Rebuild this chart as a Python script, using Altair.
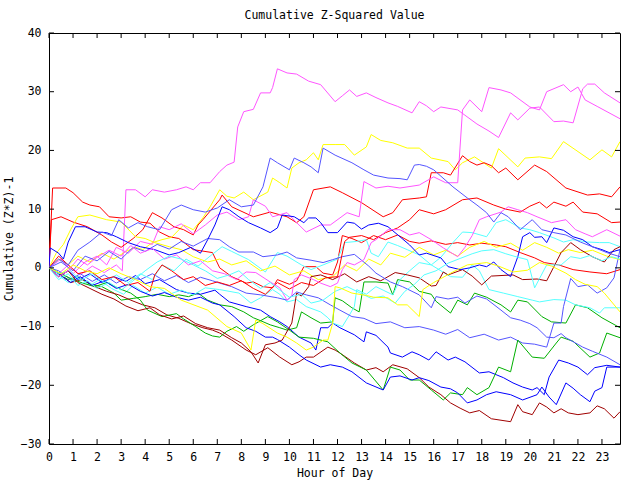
import altair as alt
import pandas as pd

TITLE = "Cumulative Z-Squared Value"
X_TITLE = "Hour of Day"
Y_TITLE = "Cumulative (Z*Z)-1"
x_ticks = list(range(0, 24))
y_ticks = [-30, -20, -10, 0, 10, 20, 30, 40]
X_MAX = 23.75

red_1 = [(0,0),(0.15,13.6),(0.7,13.6),(1,12.8),(1.4,11.2),(1.7,10.7),(2.1,10.4),(2.5,8.7),(3,8.5),(3.4,8.7),(3.8,7.8),(4.2,7.6),(4.6,6.1),(5,5.3),(5.4,5.0),(6,3.1),(6.8,2.6),(7.1,0),(7.6,-1.5),(8.2,-2.6),(8.5,-2.4),(8.9,-3.2),(9.3,-3.4),(9.5,-2),(10,-2.8),(10.3,-2.2),(10.6,0.2),(11.1,0.2),(11.4,-0.9),(11.8,-1.2),(12,1),(12.2,5.5),(12.6,5),(13,4.3),(13.5,5.5),(14,4.8),(14.5,5.6),(15,4.5),(15.4,4.2),(15.9,4.6),(16.5,4),(17,4.3),(17.5,3.9),(18,4.2),(18.6,3.9),(19,3.6),(19.6,2.6),(20.2,1.7),(20.6,0.9),(21.2,0.5),(21.8,-0.3),(22.5,-0.7),(23.2,-1),(23.75,-0.3)]
red_2 = [(0,0),(0.1,8.2),(0.5,8.7),(1,7.8),(1.6,7),(2.2,5.6),(2.6,4.4),(3,3.5),(3.5,5),(3.9,6.5),(4.3,9.4),(4.7,8.5),(5.2,7),(5.6,6.5),(6,5.6),(6.2,7.3),(6.4,8.2),(7.1,11.6),(7.2,12.4),(7.6,10.4),(8.5,8.7),(9.2,9.5),(9.9,8.7),(10.3,7.7),(10.6,8.7),(11,13.3),(11.7,13.8),(12.2,12.8),(13,11.1),(13.9,8.7),(14.3,9.4),(14.7,11.6),(15.4,11.9),(15.7,12.1),(15.9,16.2),(16.4,16.2),(16.7,15.8),(17.2,19.1),(17.5,18.1),(17.8,17.5),(18.1,17.9),(18.4,17.4),(18.7,16.2),(19,17),(19.5,15),(20.2,17.5),(20.7,16.4),(21.5,13.6),(22.4,12.4),(22.9,12.6),(23.4,12.1),(23.75,13.8)]
red_3 = [(0,0),(0.4,2),(0.8,0.5),(1.2,-1),(1.7,-0.5),(2.2,-2),(2.7,-1.5),(3.2,-3),(3.7,-2.5),(4.2,-4),(4.4,-1.2),(4.7,0.5),(5.1,-0.5),(5.6,-2),(6,-1.5),(6.5,-3),(7,-2.4),(7.5,-3),(8,-2.2),(8.5,-3.5),(9,-4.5),(9.5,-2.5),(10,-3.6),(10.5,-2.5),(11,-3),(11.5,-1.7),(12,-1.5),(12.3,4.5),(12.5,5.2),(13,5.5),(13.5,4.8),(14,6),(14.5,6.8),(15,8.2),(15.4,9.9),(16,9.2),(16.5,9.9),(17.2,11.6),(17.8,11.9),(18.5,10.7),(19,10),(19.6,9.5),(20,10.5),(20.4,11.2),(20.7,10.2),(21,11.2),(21.5,10.5),(21.8,11.2),(22.2,9.5),(22.8,9.2),(23.4,7.7),(23.75,7.8)]

green_1 = [(0,0),(0.4,-1),(0.8,-2),(1.2,-1.5),(1.7,-2.8),(2.2,-3.2),(2.7,-4.3),(3,-5.5),(3.5,-5.2),(4,-4.9),(4.5,-4.5),(5,-4.9),(5.4,-4.6),(5.8,-4.9),(6.2,-4.3),(6.6,-5.5),(7.1,-6.3),(7.6,-6.6),(8.1,-7.5),(8.5,-8.5),(8.8,-9),(9.2,-9.7),(9.6,-10.2),(9.9,-10.6),(10.3,-10.2),(10.5,-7.5),(10.9,-8.5),(11.3,-9.4),(11.8,-9.2),(11.9,-5.1),(12.2,-5.6),(12.6,-6.8),(12.9,-7.5),(13.1,-2.4),(13.6,-2.4),(14.1,-2.6),(14.3,-4.6),(14.5,-2),(15,-2.4),(15.4,-4),(15.9,-4.5),(16.1,-5.7),(16.7,-7.7),(17,-5.5),(17.4,-6.3),(17.7,-4.3),(18.2,-5),(18.8,-6.3),(19.2,-7.5),(19.5,-5.5),(19.9,-5.8),(20.5,-8.3),(20.9,-9.2),(21.5,-9.4),(21.9,-6.3),(22.4,-6.8),(23,-8.5),(23.75,-10.2)]
green_2 = [(0,0),(0.4,-0.8),(0.9,-1.8),(1.4,-2.6),(1.9,-3.2),(2.4,-2.5),(2.9,-3.5),(3.4,-4.3),(3.8,-5.5),(4.1,-7.2),(4.7,-8.3),(5.3,-7.8),(5.6,-8.7),(6.1,-10),(6.5,-11.1),(6.8,-11.6),(7.1,-11.8),(7.4,-10.8),(7.8,-10),(8.1,-10.8),(8.5,-9.7),(9.1,-8.3),(9.5,-9.2),(10,-10.6),(10.4,-11.8),(11,-12),(11.6,-12.6),(12.1,-14.5),(12.6,-16.2),(13.2,-17.4),(13.9,-20.8),(14.2,-16.9),(14.6,-17.4),(15,-19.1),(15.4,-19.1),(15.9,-20.8),(16.4,-22.5),(16.7,-21.3),(17.2,-21.6),(17.4,-20.4),(17.8,-21.6),(18.3,-20.4),(18.7,-16.9),(19.2,-17.7),(19.5,-12.3),(20.1,-15.2),(20.6,-15.4),(21.1,-12.8),(21.3,-11.8),(21.8,-12.5),(22.5,-15.2),(22.9,-14.5),(23.2,-11.1),(23.75,-11.9)]

blue_1 = [(0,0),(0.4,-1.5),(0.8,-0.5),(1.2,-2),(1.7,-1),(2.2,-2.5),(2.7,-1.5),(3.2,-2.3),(3.6,-1.3),(4,-2.7),(4.6,-2),(5.3,-3.7),(5.8,-4.3),(6.3,-4.5),(6.9,-3.8),(7.1,-4.5),(7.5,-5.8),(8.2,-6.6),(8.8,-7.2),(9.2,-8.3),(9.6,-9.2),(9.9,-10),(10.4,-11.8),(10.9,-12.8),(11.1,-14),(11.3,-10.2),(11.6,-10.2),(11.8,-9.4),(12.1,-10.2),(12.7,-11.4),(13.1,-12.6),(13.2,-10.9),(13.6,-11.5),(14.1,-13.5),(14.2,-14.5),(14.7,-15.2),(15.1,-14.3),(15.4,-14.8),(15.8,-15.7),(16.1,-14.3),(16.6,-15.7),(16.9,-15.2),(17.3,-16),(17.9,-17.9),(18.3,-17.7),(18.9,-18.7),(19.3,-19.6),(19.7,-20.3),(20.1,-20.8),(20.3,-20.4),(20.6,-21.6),(20.8,-18.6),(21.2,-15.7),(21.6,-16.2),(22,-16.9),(22.4,-18.2),(22.7,-17),(23.2,-16.6),(23.75,-16.9)]
blue_2 = [(0,0),(0.4,-1),(0.9,-2.5),(1.3,-1.5),(1.8,-3),(2.3,-2.2),(2.8,-3.5),(3.3,-2.8),(3.8,-4),(4.3,-4.8),(4.8,-4.2),(5.3,-5),(5.8,-5.5),(6.3,-5),(6.8,-6),(7.1,-6.3),(7.7,-8.3),(8.2,-10.2),(8.6,-10.8),(9,-11.8),(9.3,-11.8),(9.5,-12.2),(10,-13.5),(10.4,-14.8),(10.7,-15.7),(11.3,-16.9),(11.7,-16.5),(12.2,-16.9),(12.6,-17.7),(13.2,-19.6),(13.9,-20.8),(14.2,-18.6),(14.6,-18.4),(15.1,-19.1),(15.4,-18.7),(15.8,-19.2),(16.3,-20.3),(16.7,-20.6),(17,-21.3),(17.4,-23),(17.8,-22.5),(18.2,-21.6),(18.6,-21.1),(19.2,-21.6),(19.7,-22.5),(20.3,-21.6),(20.5,-20.3),(20.8,-22),(21.1,-23.3),(21.5,-19.6),(21.8,-20.5),(22.1,-21.6),(22.5,-22.8),(22.7,-21),(23,-20.4),(23.2,-16.9),(23.75,-16.9)]
blue_3 = [(0,0),(0.05,3.4),(0.4,2.5),(0.6,1.5),(0.8,4.4),(1.1,7),(1.5,7),(2,6.1),(2.4,6),(2.8,5.3),(3.3,4.3),(3.8,3.6),(4.4,3.1),(5,2.2),(5.4,2.6),(5.9,3.5),(6.3,2.5),(6.6,4.8),(6.9,7.3),(7.2,10.4),(7.5,9.9),(7.9,8.7),(8.3,7.7),(8.8,6.8),(9.2,6),(9.5,6.8),(9.7,9),(10.2,8.7),(10.6,7.7),(10.8,8.5),(11.1,8.5),(11.3,7.7),(11.6,6),(12,6),(12.4,7.8),(12.7,7.6),(13,6.6),(13.3,7.3),(13.7,7.6),(14.1,7),(14.6,5.3),(15,3.9),(15.4,2.2),(15.7,2.5),(16.3,1.7),(16.6,0.2),(17.1,-0.3),(17.5,0),(17.9,0.5),(18.2,0.2),(18.5,1),(18.8,-0.3),(19.2,-1.5),(19.5,1.9),(19.7,5.3),(20,6),(20.2,5.2),(20.5,5.3),(20.7,4.3),(21,6.8),(21.4,6.4),(21.8,5.3),(22.2,4.8),(22.6,3.6),(23,3.1),(23.3,2.6),(23.75,3.1)]

magenta_1 = [(0,0),(0.4,-1),(0.8,0.5),(1.3,-1.2),(1.8,0.3),(2.3,-0.8),(2.8,0.5),(3.05,-0.5),(3.2,13.3),(3.6,13.3),(4,12.1),(4.3,13.3),(4.8,12.9),(5.3,13.3),(5.7,13.8),(6,13.3),(6.3,14.5),(6.7,14.5),(7.1,16.4),(7.4,17.5),(7.7,18),(7.85,24),(8.1,26.6),(8.5,27),(8.8,29.8),(9.2,29.8),(9.3,30.7),(9.5,33.9),(9.9,33.2),(10.3,33),(10.8,31.8),(11.3,31.2),(11.9,28.3),(12.2,29.3),(12.5,30.3),(12.8,29.2),(13.2,29.8),(13.6,29),(14.1,28.1),(14.5,27.5),(15.1,26.4),(15.4,28.3),(15.7,27.6),(16,26.6),(16.3,27.4),(17,26.9),(17.3,26),(17.8,24.5),(18.3,23.3),(18.7,22.2),(19.2,26.4),(19.5,25.2),(20,27.2),(20.4,27.4),(21,24.9),(21.4,25),(21.8,24.7),(22.2,30.5),(22.4,31.3),(22.7,31.3),(23.1,29.8),(23.75,28.1)]
magenta_2 = [(0,0),(0.5,1.5),(1,-1),(1.5,1),(2,2),(2.4,0.5),(2.8,3.5),(3.3,2.5),(3.8,4.5),(4.3,4),(4.6,7),(5,6.5),(5.5,7.5),(6,5.8),(6.5,7.3),(7,9),(7.4,9.5),(7.9,8.2),(8.3,8.7),(8.5,11.6),(9,10.5),(9.3,8.7),(9.9,9.4),(10.3,7.7),(10.7,6.1),(11.3,7.3),(11.7,7.3),(12.4,9.4),(12.9,8.7),(13.1,14.7),(13.6,13.6),(14.1,13.9),(14.6,13.6),(15.4,14.1),(16,15.5),(16.5,14.5),(17,14.5),(17.2,26.9),(17.5,28.6),(18,26.6),(18.3,30.7),(18.8,30.3),(19.2,29.8),(20,27.4),(20.4,26.9),(20.7,30),(21.4,31.2),(21.7,30),(22,30.8),(22.3,28.6),(22.8,27.5),(23.75,25.4)]
magenta_3 = [(0,0),(0.4,-1.5),(0.8,-0.5),(1.2,1.5),(1.6,0.5),(2,1.8),(2.5,3),(3,2),(3.4,3.8),(3.8,2.5),(4.3,3.3),(4.8,1.5),(5.3,2.2),(5.8,0.5),(6.3,1.2),(6.8,-0.5),(7.3,-1),(7.8,-2),(8.2,-0.7),(8.6,-0.8),(9.2,-2.4),(9.6,-3.4),(9.9,-5.5),(10.1,-4.7),(10.2,-2),(10.5,-1.2),(11,-2),(11.3,-2.6),(11.7,-3.2),(12,-2.6),(12.2,-0.3),(12.4,0.9),(12.7,0.5),(13.1,1.4),(13.4,4.3),(13.6,4.8),(14.1,6.5),(14.6,6.5),(15,5.6),(15.4,6),(15.9,4.8),(16.4,3.4),(17,1.9),(17.3,3.5),(17.6,5.5),(17.9,8.2),(18.2,8.7),(18.8,9.5),(19.1,10.4),(19.5,9.9),(19.9,9.4),(20.3,8.7),(20.9,7.7),(21.5,8.2),(21.9,6.5),(22.3,5.8),(22.6,5.3),(23.2,6.5),(23.75,5.4)]

cyan_1 = [(0,0),(0.4,-1.3),(0.8,-2.5),(1.2,-1.5),(1.7,-3),(2.1,-2),(2.6,-3.5),(3.1,-4.5),(3.5,-3),(4,-4.3),(4.5,-3.3),(5,-4.5),(5.5,-3.8),(6,-4.6),(6.5,-3.4),(7.1,-3.7),(7.9,-4.3),(8.4,-6),(8.8,-5.1),(9.3,-3.7),(9.6,-4.5),(9.9,-5.8),(10.3,-5.4),(10.7,-6.6),(11.3,-7.5),(11.6,-8.5),(11.8,-9.4),(12.2,-10),(12.5,-8),(12.7,-6.6),(12.8,-3.7),(13.2,-4.5),(13.6,-3.2),(13.9,-3.8),(14.3,-4.6),(14.6,-2),(15,-0.5),(15.4,0.9),(15.9,0.5),(16.7,-1.5),(17.2,-1.6),(17.6,0.5),(17.9,-0.5),(18.3,-3.7),(18.9,-4.3),(19.5,-4.9),(20.1,-5.5),(20.4,-5.8),(21,-5.4),(21.5,-5.5),(21.9,-6.3),(22.5,-6.8),(22.9,-7.7),(23.1,-6.8),(23.75,-6.8)]
cyan_2 = [(0,0),(0.4,-1),(0.9,-0.5),(1.3,-2.2),(1.8,-1),(2.3,-2.5),(2.8,-1.2),(3.3,-2.5),(3.8,-1),(4.3,-2),(4.7,0.5),(5.2,-0.5),(5.7,1.5),(6.2,0.3),(6.7,2),(7.2,3.6),(7.6,2.8),(8.3,1.4),(9,-0.7),(9.5,2.6),(9.9,2),(10.5,0.5),(10.9,-0.3),(11.4,0.5),(12,1.5),(12.3,4.3),(12.8,4.5),(13.2,4.8),(13.4,2.5),(13.7,1.9),(14.1,4.4),(14.5,3.8),(14.9,3.1),(15.4,2.2),(15.9,0.5),(16.3,1.8),(16.8,4.3),(17.2,6.1),(17.6,6),(18.2,5.3),(18.6,7.7),(19,8.2),(19.6,6.8),(20,6.5),(20.4,6),(21,5.1),(21.4,4.4),(21.8,4.8),(22.4,4.4),(22.9,4.3),(23.3,4.3),(23.75,3.6)]
cyan_3 = [(0,0),(0.4,-2),(0.8,-1),(1.2,-3),(1.6,-2.2),(2,-3.5),(2.5,-2.5),(3,-3.8),(3.5,-2.2),(4,-0.5),(4.5,1),(5,2),(5.5,1.5),(6,0.5),(6.5,-0.5),(7,-1.8),(7.5,-1.2),(7.9,-0.5),(8.3,-2),(8.8,-3.5),(9.2,-2.5),(9.6,-3.8),(10,-5),(10.5,-4.5),(10.9,-6),(11.4,-5.5),(11.9,-4),(12.4,-3.2),(12.9,-4.2),(13.4,-5.2),(13.9,-4.8),(14.4,-6),(14.8,-4),(15.2,-2.8),(15.6,-1.2),(16.1,-0.5),(16.6,0.8),(17.1,1.6),(17.6,2.4),(18,2.9),(18.5,3.1),(19,2.4),(19.5,1.8),(19.9,1.4),(20.2,-3.4),(20.7,0.5),(21.3,0.5),(21.7,1.9),(22.1,1.6),(22.5,2.1),(23,1.2),(23.4,1.9),(23.75,1.5)]

yellow_1 = [(0,0),(0.4,1.5),(0.8,0.5),(1.2,2),(1.7,1),(2.2,2.5),(2.7,1.5),(3.2,2.8),(3.6,3.5),(3.9,3.1),(4.3,4.3),(4.7,4.8),(5.1,5.2),(5.6,7.3),(6,6.5),(6.4,8.5),(6.7,10.4),(7.1,13.3),(7.4,12.2),(7.7,11.9),(8.1,12.9),(8.5,11.6),(9.1,12.9),(9.3,15.3),(9.6,14.5),(9.9,13.6),(10.1,17),(10.4,17.9),(10.7,18.4),(11,19.6),(11.2,18.4),(11.4,21),(11.9,21),(12.3,21),(12.7,19.2),(13.2,20.6),(13.4,22.7),(13.8,21.7),(14.3,21.3),(14.9,20.4),(15.4,20.4),(15.9,18.7),(16.6,18.1),(16.9,16.7),(17.2,17.9),(17.7,18.9),(18.4,17),(18.7,20.3),(19.5,17.2),(19.8,18.7),(20.4,18.9),(20.9,18.6),(21.4,21.5),(22.5,18.4),(23,20.1),(23.4,18.9),(23.75,21.5)]
yellow_2 = [(0,0),(0.3,2.5),(0.6,4),(0.9,6.5),(1.2,8.7),(1.7,9),(2.4,8.2),(3,7.8),(3.6,5.3),(4,5),(4.4,4.3),(5,3.6),(5.5,3.1),(6,1.9),(6.6,1),(7.1,1.5),(7.6,0.5),(8.2,1.2),(8.8,-0.5),(9.4,0.3),(10,-1.2),(10.6,-0.5),(11.2,-2),(11.8,-1.5),(12.3,0.5),(12.8,-0.5),(13.3,1.5),(13.8,0.5),(14.2,2.5),(14.8,1.8),(15.4,3.5),(16,2.2),(16.5,3),(17,2),(17.5,3.5),(18.1,4.5),(18.6,3.5),(19.2,4.2),(19.7,3),(20.2,4.3),(20.7,3.5),(21.2,2.5),(21.6,3.1),(22.1,2.6),(22.6,3),(23.2,2),(23.75,1.4)]
yellow_3 = [(0,0),(0.5,-1),(1,0.5),(1.5,-0.5),(2,-1),(2.5,0),(3,-1),(3.6,-2),(4.2,-3.2),(4.8,-3.5),(5.5,-5.5),(6.6,-7.2),(7.4,-10),(8,-11.1),(8.4,-14),(8.6,-8.9),(8.9,-9.5),(9.5,-11.1),(9.9,-11.8),(10.3,-12.8),(10.7,-14),(11,-13.5),(11.4,-12.3),(11.6,-12.3),(11.8,-9.4),(11.9,-3.2),(12.1,-3.4),(12.6,-4.3),(13.2,-4.7),(13.5,-5),(14.1,-5.1),(14.5,-6.3),(14.9,-6.3),(15.4,-8.3),(15.55,-3.7),(16,-2.5),(16.8,-0.7),(17.4,0.5),(18.2,0.9),(18.7,0.3),(19.3,-0.7),(19.9,-0.4),(20.4,0.9),(20.9,0.3),(21.5,-0.9),(21.9,-2),(22.3,-2.8),(22.8,-3.2),(23.1,-4.3),(23.75,-7.5)]

darkred_1 = [(0,0),(0.4,-1),(0.9,-2.5),(1.4,-2),(1.9,-3.2),(2.4,-4),(2.9,-4.6),(3.4,-5.5),(3.9,-6.3),(4.4,-6.8),(4.9,-8),(5.4,-8.6),(5.9,-9.5),(6.4,-10.2),(6.8,-10.6),(7.1,-11.1),(7.6,-12.3),(8.2,-14),(8.6,-14.8),(9.1,-13.6),(9.6,-15.2),(10.1,-16.5),(10.4,-16),(10.7,-15.2),(11,-15.2),(11.6,-13.5),(11.9,-14),(12.1,-14.5),(12.7,-16.2),(13.2,-17.4),(13.6,-17),(13.9,-17.7),(14.3,-16.5),(14.9,-17.2),(15.4,-18.7),(15.8,-20.3),(16.3,-21.6),(16.7,-23),(17.1,-23.9),(17.5,-24.7),(17.9,-24.3),(18.4,-25.7),(19.2,-26.2),(19.5,-23.3),(19.7,-24.5),(20.1,-25),(20.4,-23),(20.7,-23.7),(21,-24.7),(21.3,-24),(21.6,-24.7),(22,-25),(22.5,-24.7),(22.8,-23.5),(23.1,-24),(23.5,-25.6),(23.75,-24.5)]
darkred_2 = [(0,0),(0.4,-1.5),(0.8,-0.5),(1.2,-2.5),(1.7,-3.5),(2.2,-4.5),(2.7,-5.3),(3.2,-6.5),(3.7,-7.3),(4.2,-6.8),(4.6,-8),(5.1,-8.7),(5.6,-8.2),(6.1,-9.5),(6.6,-10.2),(7.1,-10.6),(7.6,-11.9),(8,-12.8),(8.4,-14.3),(8.7,-16.2),(9,-13.1),(9.4,-12.8),(9.7,-12.3),(10.1,-9.4),(10.3,-4.3),(10.5,-4.8),(10.8,-3.2),(10.9,-1.5),(11.3,-1.2),(11.8,-2),(12.3,-1),(12.8,-2.4),(13.3,-1.5),(13.8,-2.2),(14.4,-0.8),(14.9,-1.2),(15.4,-1.7),(15.9,-3.1),(16.1,-3),(16.4,-0.7),(16.6,-1.2),(17.2,-0.3),(17.6,-1.4),(18,-2.9),(18.4,-1.4),(19.3,-1.2),(19.7,-2),(20.3,-1.9),(20.7,-2.2),(21,0.2),(21.3,2.6),(21.7,4.3),(22.1,3.1),(22.6,1.9),(23.1,1),(23.5,3.1),(23.75,3.6)]

lightblue_1 = [(0,0),(0.4,-0.5),(0.9,-2),(1.3,-1),(1.8,-2.3),(2.3,-1.2),(2.8,-2.6),(3.3,-1.5),(3.8,-2),(4.3,-1),(4.8,-2.2),(5.3,-1.3),(5.8,-2.5),(6.3,-1.6),(6.8,-2.2),(7.1,-2.6),(7.6,-3.2),(8.2,-4.3),(8.8,-4.6),(9.5,-5.1),(9.9,-5.5),(10.3,-4.1),(10.7,-4.6),(11.2,-5.1),(11.7,-6.3),(12.1,-7.2),(12.6,-8.3),(13.1,-8.6),(13.6,-9.5),(14.2,-9.2),(14.8,-10.2),(15.4,-10),(16,-10.6),(16.5,-11.3),(17,-10.5),(17.5,-11.9),(18.1,-11.3),(18.7,-12.3),(19.2,-11.8),(19.7,-12.8),(20.2,-13),(20.7,-13.5),(21,-9.4),(21.3,-9.4),(21.4,-6.6),(21.7,-1.8),(22,-3.2),(22.4,-2.9),(22.8,-4.3),(23.2,-3.4),(23.5,-1.7),(23.75,3.1)]
lightblue_2 = [(0,0),(0.5,1),(1,-0.5),(1.5,2),(2,1.2),(2.5,2.8),(3,1.5),(3.5,3.5),(4,2.8),(4.5,4),(5,3.2),(5.5,4.5),(6,3.7),(6.6,5),(7.1,4.8),(7.5,3.6),(7.9,2.7),(8.5,2.7),(8.9,1.9),(9.5,2.2),(9.9,2.7),(10.3,1.7),(10.9,1.3),(11.4,0.9),(11.8,1.4),(12.2,1.9),(12.7,2.3),(13.0,1.3),(13.3,0.3),(13.6,-0.9),(14.2,-2.4),(14.7,-3.2),(15.4,-4.6),(15.9,-6.8),(16.1,-4.9),(16.6,-5.3),(17,-5),(17.3,-6),(17.8,-4.8),(18.2,-5.3),(18.8,-7.2),(19.2,-8.5),(19.6,-8.9),(20,-9.5),(20.3,-10.2),(20.7,-11.8),(21,-11.9),(21.3,-11.2),(21.5,-11.9),(21.9,-12.8),(22.2,-13.5),(22.6,-14.2),(23.2,-15.2),(23.75,-16.5)]
lightblue_3 = [(0,0),(0.4,1.5),(0.8,0.5),(1.2,3),(1.7,4.4),(2.2,6.1),(2.6,5.5),(2.9,8.2),(3.3,6.8),(3.7,7.7),(4.1,7),(4.6,6.5),(5.1,9.9),(5.5,10.7),(6,9.9),(6.5,9.5),(7,10.2),(7.5,11.6),(8,10.4),(8.5,10.7),(8.9,13.8),(9.2,18.7),(9.5,17.9),(10,16.7),(10.2,18.7),(10.6,17.9),(10.9,17.2),(11.2,16.2),(11.4,20.4),(11.9,19.2),(12.6,17.9),(13.1,16.7),(13.5,15.8),(14.1,15.3),(14.6,15.2),(14.9,15),(15.2,17.5),(15.4,17.6),(15.7,17.3),(16,16.7),(16.8,13.8),(17.4,11.9),(17.8,10.7),(18.2,9.4),(18.5,7.8),(18.8,9.4),(19.1,8.7),(19.6,6.5),(20.1,8.2),(20.5,6.5),(21,6),(21.5,5.6),(22.1,4.4),(22.6,3.6),(23.2,2.6),(23.75,1.9)]

series = [
    ("red_1", "#ff0000", red_1),
    ("green_1", "#00b000", green_1),
    ("blue_1", "#0000ff", blue_1),
    ("magenta_1", "#ff55ff", magenta_1),
    ("cyan_1", "#55ffff", cyan_1),
    ("yellow_1", "#ffff00", yellow_1),
    ("darkred_1", "#a00000", darkred_1),
    ("lightblue_1", "#5555ff", lightblue_1),
    ("red_2", "#ff0000", red_2),
    ("green_2", "#00b000", green_2),
    ("blue_2", "#0000ff", blue_2),
    ("magenta_2", "#ff55ff", magenta_2),
    ("cyan_2", "#55ffff", cyan_2),
    ("yellow_2", "#ffff00", yellow_2),
    ("darkred_2", "#a00000", darkred_2),
    ("lightblue_2", "#5555ff", lightblue_2),
    ("red_3", "#ff0000", red_3),
    ("blue_3", "#0000ff", blue_3),
    ("magenta_3", "#ff55ff", magenta_3),
    ("cyan_3", "#55ffff", cyan_3),
    ("yellow_3", "#ffff00", yellow_3),
    ("lightblue_3", "#5555ff", lightblue_3),
]

rows = []
for name, color, pts in series:
    for i, (h, v) in enumerate(pts):
        rows.append({"series": name, "hour": h, "value": v, "order": i})
df = pd.DataFrame(rows)

names = [s[0] for s in series]
colors = [s[1] for s in series]

W, H = 571, 411
TICK = 5
FONT = "DejaVu Sans Mono"
FS = 11.5

xscale = alt.Scale(domain=[0, X_MAX], nice=False, zero=False)
yscale = alt.Scale(domain=[-30, 40], nice=False, zero=False)

x_axis = alt.Axis(values=x_ticks, title=X_TITLE, tickSize=0, domain=False, grid=False,
                  labelPadding=7, titlePadding=5, format="d", labelFlush=False)
y_axis = alt.Axis(values=y_ticks, title=Y_TITLE, tickSize=0, domain=False, grid=False,
                  labelPadding=8, titlePadding=6, format="d")

lines = alt.Chart(df).mark_line(strokeWidth=1, clip=True, interpolate="linear").encode(
    x=alt.X("hour:Q", scale=xscale, axis=x_axis),
    y=alt.Y("value:Q", scale=yscale, axis=y_axis),
    color=alt.Color("series:N", scale=alt.Scale(domain=names, range=colors), legend=None),
    order=alt.Order("order:Q"),
)

xt = pd.DataFrame({"t": x_ticks})
yt = pd.DataFrame({"t": y_ticks})

bottom_ticks = alt.Chart(xt).mark_rule(color="black", strokeWidth=1).encode(
    x=alt.X("t:Q", scale=xscale, axis=x_axis), y=alt.value(H), y2=alt.value(H - TICK))
top_ticks = alt.Chart(xt).mark_rule(color="black", strokeWidth=1).encode(
    x=alt.X("t:Q", scale=xscale, axis=x_axis), y=alt.value(0), y2=alt.value(TICK))
left_ticks = alt.Chart(yt).mark_rule(color="black", strokeWidth=1).encode(
    y=alt.Y("t:Q", scale=yscale, axis=y_axis), x=alt.value(0), x2=alt.value(TICK))
right_ticks = alt.Chart(yt).mark_rule(color="black", strokeWidth=1).encode(
    y=alt.Y("t:Q", scale=yscale, axis=y_axis), x=alt.value(W - TICK), x2=alt.value(W))

chart = alt.layer(lines, bottom_ticks, top_ticks, left_ticks, right_ticks).properties(
    width=W, height=H,
    title=alt.TitleParams(TITLE, font=FONT, fontSize=FS, fontWeight="normal", color="black", offset=6),
    padding={"left": 49, "top": 33, "right": 20, "bottom": 36},
    autosize=alt.AutoSizeParams(type="none"),
).configure_view(stroke="black", strokeWidth=1).configure_axis(
    labelFont=FONT, labelFontSize=FS, labelColor="black",
    titleFont=FONT, titleFontSize=FS, titleFontWeight="normal", titleColor="black",
)

chart.save("out.html", embed_options={"renderer": "svg", "actions": False})
